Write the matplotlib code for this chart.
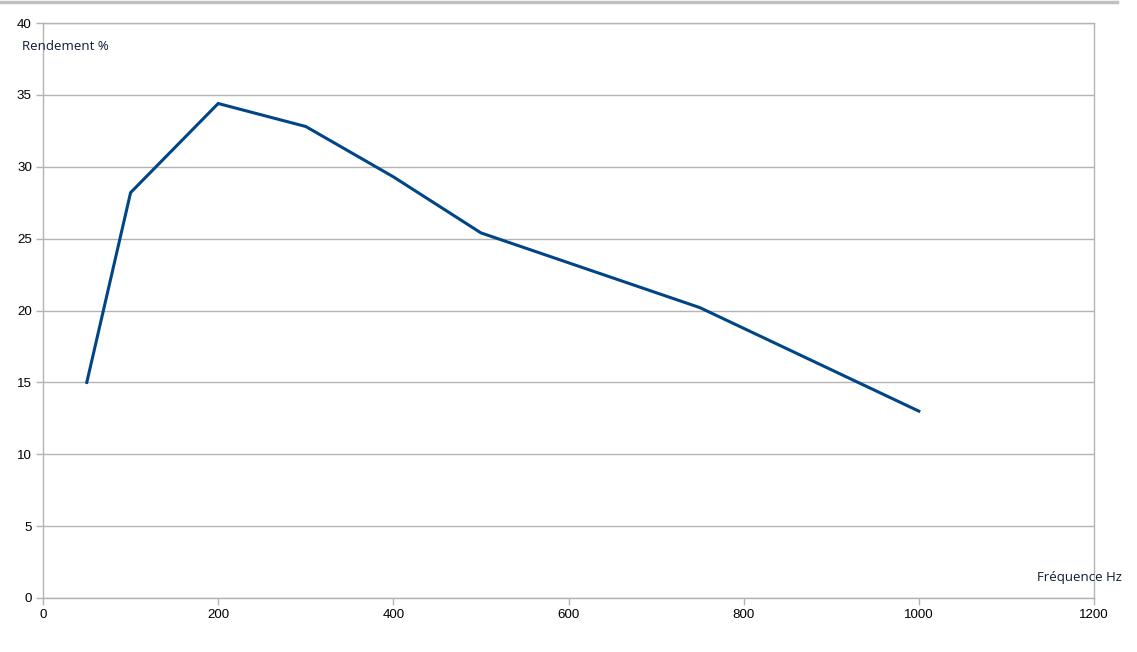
import matplotlib.pyplot as plt
from matplotlib.lines import Line2D

# Data
frequence = [50, 100, 200, 300, 400, 500, 750, 1000]
rendement = [15.0, 28.2, 34.4, 32.8, 29.3, 25.4, 20.2, 13.0]

x_ticks = [0, 200, 400, 600, 800, 1000, 1200]
y_ticks = [0, 5, 10, 15, 20, 25, 30, 35, 40]

grid_col = '#b3b3b3'

fig = plt.figure(figsize=(11.37, 6.52), dpi=100)
ax = fig.add_axes([43 / 1137, 1 - 598 / 652, (1094 - 43) / 1137, (598 - 23) / 652])

ax.plot(frequence, rendement, color='#004586', linewidth=2.2, solid_joinstyle='miter')

ax.set_xlim(0, 1200)
ax.set_ylim(0, 40)
ax.set_xticks(x_ticks)
ax.set_yticks(y_ticks)
ax.yaxis.grid(True, color=grid_col, linewidth=1)
ax.set_axisbelow(True)

for side in ['left', 'bottom', 'right', 'top']:
    ax.spines[side].set_color(grid_col)
    ax.spines[side].set_linewidth(1)

ax.tick_params(axis='both', direction='out', length=5, width=1, color=grid_col,
               labelsize=9.6, labelcolor='black', pad=3)
for lbl in ax.get_xticklabels() + ax.get_yticklabels():
    lbl.set_family('Liberation Sans')

# axis titles placed like the spreadsheet export
fig.text(22 / 1137, 1 - 47 / 652, 'Rendement %', fontsize=9.5, family='Open Sans',
         color='#0d1a33', va='center', ha='left')
fig.text(1122 / 1137, 1 - 578 / 652, 'Fréquence Hz', fontsize=9.5, family='Open Sans',
         color='#0d1a33', va='center', ha='right')

# selection border at the very top of the screenshot
fig.add_artist(Line2D([0, 1117 / 1137], [1 - 1.5 / 652, 1 - 1.5 / 652], color='#c0c0c0', linewidth=2.5))

fig.savefig('out.png', dpi=100, facecolor='white')
